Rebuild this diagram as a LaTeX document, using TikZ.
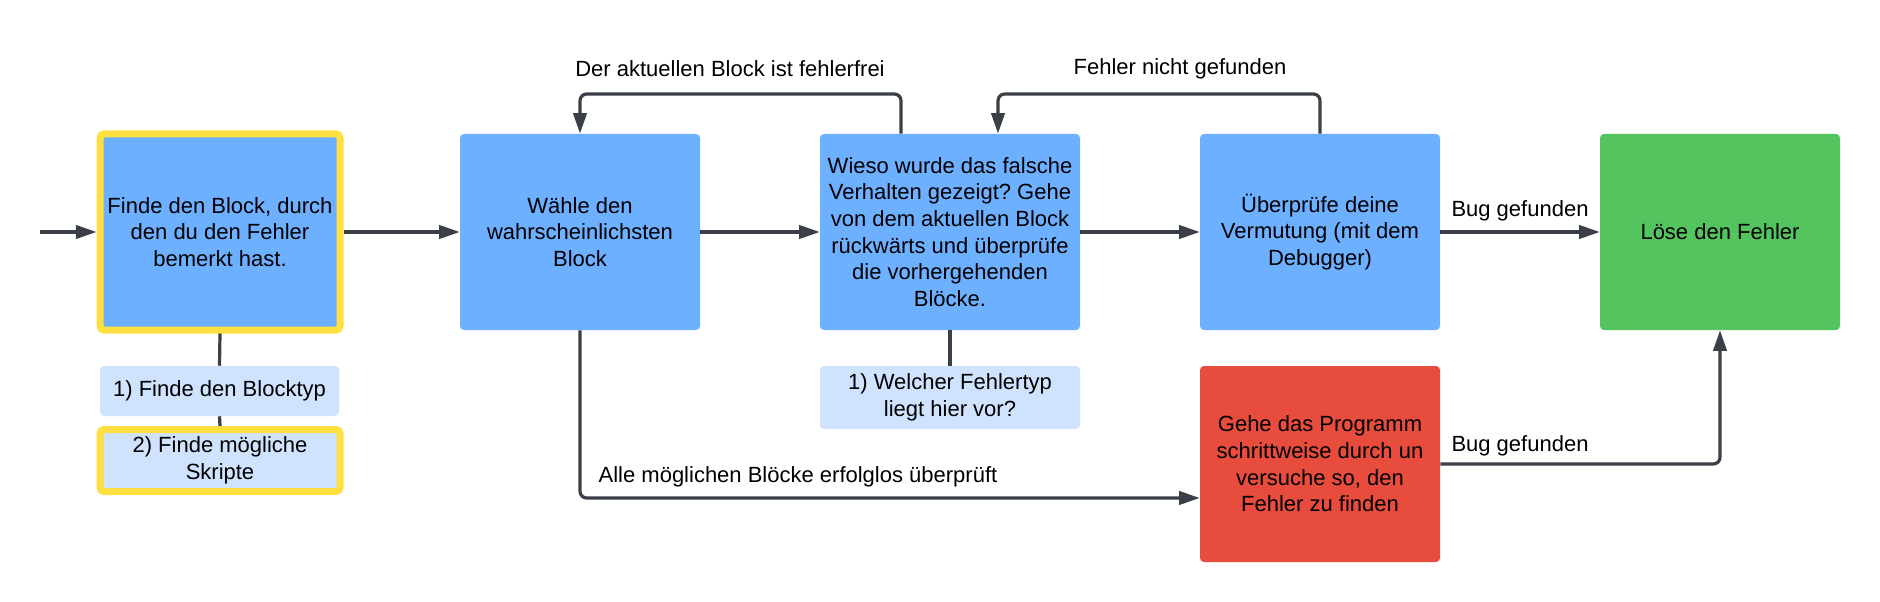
\documentclass[tikz,border=0pt]{standalone}
\usepackage{fontspec}
\setmainfont{Liberation Sans}
\usetikzlibrary{arrows.meta}
\definecolor{boxblue}{HTML}{6DB0FF}
\definecolor{subblue}{HTML}{CFE3FE}
\definecolor{hiyellow}{HTML}{FFE040}
\definecolor{okgreen}{HTML}{54C45E}
\definecolor{errred}{HTML}{E74C3C}
\definecolor{linegray}{HTML}{3B4048}
\frenchspacing
\begin{document}
\begin{tikzpicture}[x=0.75pt,y=-0.75pt,font=\fontsize{16.5}{20}\selectfont]
\tikzset{
  mainbox/.style={rectangle, rounded corners=3pt, minimum width=180pt, minimum height=147pt, align=center, inner sep=0pt, fill=boxblue},
  subbox/.style={rectangle, rounded corners=3pt, align=center, inner sep=0pt, fill=subblue},
  hilite/.style={draw=hiyellow, line width=5.25pt},
  conn/.style={draw=linegray, line width=2.4pt, rounded corners=5pt},
  arr/.style={conn, -{Triangle[length=15.5pt,width=10pt]}},
  lbl/.style={inner sep=0pt, text=black}
}
\fill[white] (0,0) rectangle (1880,602);
\useasboundingbox (0,0) rectangle (1880,602);

% main boxes
\node[mainbox, hilite] (box1) at (220,232) {Finde den Block, durch\\den du den Fehler\\bemerkt hast.};
\node[mainbox] (box2) at (580,232) {Wähle den\\wahrscheinlichsten\\Block};
\node[mainbox, minimum width=195pt] (box3) at (950,232) {Wieso wurde das falsche\\Verhalten gezeigt? Gehe\\von dem aktuellen Block\\rückwärts und überprüfe\\die vorhergehenden\\Blöcke.};
\node[mainbox] (box4) at (1320,232) {Überprüfe deine\\Vermutung (mit dem\\Debugger)};
\node[mainbox, fill=okgreen] (box5) at (1720,232) {Löse den Fehler};
\node[mainbox, fill=errred] (red) at (1320,464) {Gehe das Programm\\schrittweise durch un\\versuche so, den\\Fehler zu finden};

% sub boxes
\node[subbox, minimum width=179.25pt, minimum height=37.5pt] (sub1) at (219.5,391) {1) Finde den Blocktyp};
\node[subbox, hilite, minimum width=180pt, minimum height=46.5pt] (sub2) at (220,460.5) {2) Finde mögliche\\Skripte};
\node[subbox, minimum width=195pt, minimum height=47.25pt] (sub3) at (950,397.5) {1) Welcher Fehlertyp\\liegt hier vor?};

% helper coordinates
\coordinate (start) at (40,232);
\coordinate (l1) at (901,94);
\coordinate (l2) at (580,94);
\coordinate (m1) at (1320,94);
\coordinate (m2) at (998,94);
\coordinate (b1) at (580,498);
\coordinate (g1) at (1720,464);

% connectors
\draw[arr] (start) -- (box1.west);
\draw[arr] (box1.east) -- (box2.west);
\draw[arr] (box2.east) -- (box3.west);
\draw[arr] (box3.east) -- (box4.west);
\draw[arr] (box4.east) -- (box5.west);
\draw[arr] (box3.north -| l1) -- (l1) -- (l2) -- (box2.north);
\draw[arr] (box4.north) -- (m1) -- (m2) -- (box3.north -| m2);
\draw[arr] (box2.south) -- (b1) -- (red.west |- b1);
\draw[arr] (red.east) -- (g1) -- (box5.south);
\draw[conn] (box1.south) -- (sub1.north);
\draw[conn] (sub1.south) -- (sub2.north);
\draw[conn] (box3.south) -- (sub3.north);

% labels
\node[lbl] (t1) at (730,69) {Der aktuellen Block ist fehlerfrei};
\node[lbl] (t2) at (1180,69) {Fehler nicht gefunden};
\node[lbl] (t3) at (1520,211) {Bug gefunden};
\node[lbl] (t4) at (1520,446) {Bug gefunden};
\node[lbl] (t5) at (798,477) {Alle möglichen Blöcke erfolglos überprüft};
\end{tikzpicture}
\end{document}
